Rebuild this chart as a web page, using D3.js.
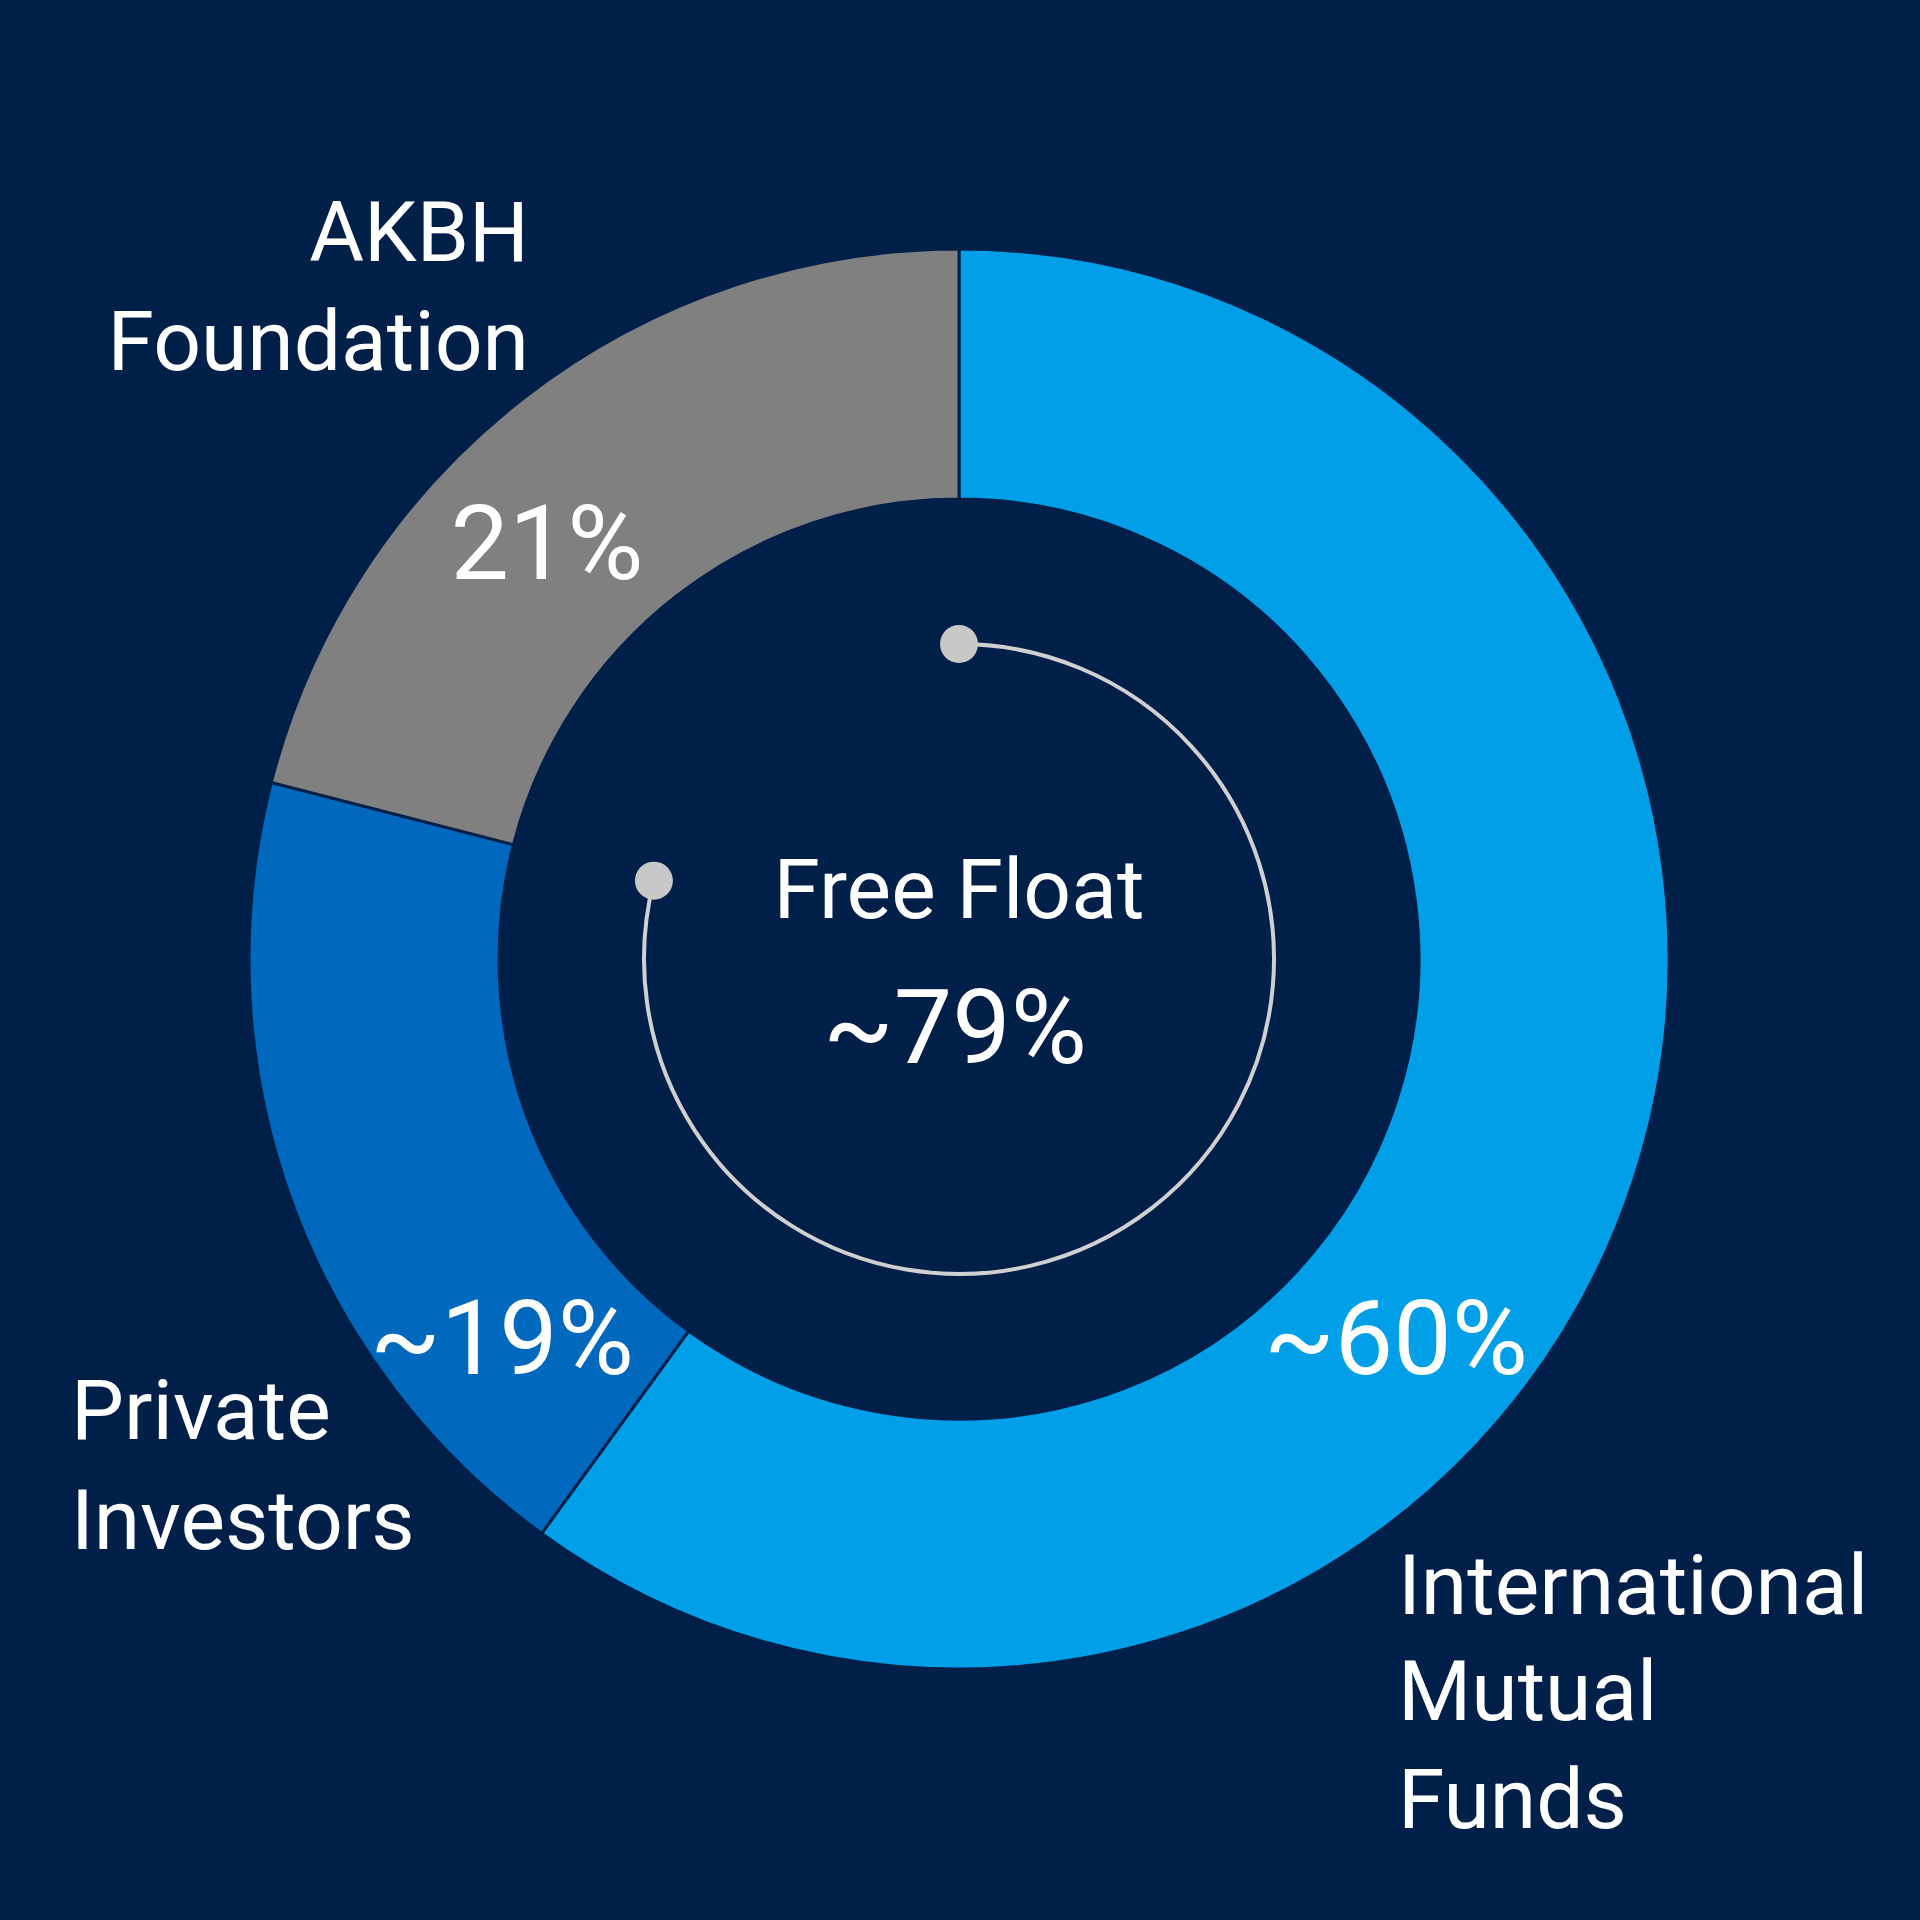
<!DOCTYPE html>
<html><head><meta charset="utf-8">
<script src="https://cdn.jsdelivr.net/npm/d3@7"></script>
<style>body{margin:0;background:#00204a}</style>
</head><body><svg id="chart"></svg>
<script>
const categories = ['International Mutual Funds', 'Private Investors', 'AKBH Foundation'];
const shares = [60, 19, 21];
const shareLabels = ['~60%', '~19%', '21%'];
const colors = ['#009fe8', '#0069bd', '#808080'];
const freeFloat = 79;

const W = 1920, cx = 959, cy = 959, rOut = 710, rIn = 460, rRing = 315;
const font = 'Roboto, sans-serif';
const svg = d3.select('#chart').attr('width', W).attr('height', W);
svg.append('rect').attr('width', W).attr('height', W).attr('fill', '#00204a');
const g = svg.append('g').attr('transform', `translate(${cx},${cy})`);

const pie = d3.pie().sort(null).value(d => d)(shares);
const arc = d3.arc().innerRadius(rIn).outerRadius(rOut);
g.selectAll('path.slice').data(pie).join('path')
  .attr('class', 'slice').attr('d', arc)
  .attr('fill', (d, i) => colors[i]).attr('stroke', '#00204a').attr('stroke-width', 3);

// free float ring
const ang = d3.scaleLinear().domain([0, 100]).range([0, 2 * Math.PI]);
g.append('path')
  .attr('d', d3.arc().innerRadius(rRing).outerRadius(rRing)({startAngle: 0, endAngle: ang(freeFloat)}))
  .attr('fill', 'none').attr('stroke', '#d0d0d0').attr('stroke-width', 4);
[0, freeFloat].forEach(v => {
  g.append('circle').attr('r', 19).attr('fill', '#c8c8c8')
    .attr('cx', rRing * Math.sin(ang(v))).attr('cy', -rRing * Math.cos(ang(v)));
});

function txt(x, y, s, size, anchor) {
  svg.append('text').attr('x', x).attr('y', y).text(s)
    .attr('font-family', font).attr('font-size', size).attr('fill', '#fff')
    .attr('text-anchor', anchor || 'middle');
}
// value labels
const valPos = [[1396, 1374], [502, 1374], [547, 579]];
shareLabels.forEach((s, i) => txt(valPos[i][0], valPos[i][1], s, 104));
txt(959, 918, 'Free Float', 84);
txt(955, 1063, '~' + freeFloat + '%', 104);

// category labels
[['AKBH', 529, 261, 'end'], ['Foundation', 529, 370, 'end'],
 ['Private', 71, 1439, 'start'], ['Investors', 71, 1549, 'start'],
 ['International', 1398, 1614, 'start'], ['Mutual', 1398, 1720, 'start'], ['Funds', 1398, 1828, 'start']]
  .forEach(d => txt(d[1], d[2], d[0], 84, d[3]));
</script></body></html>
